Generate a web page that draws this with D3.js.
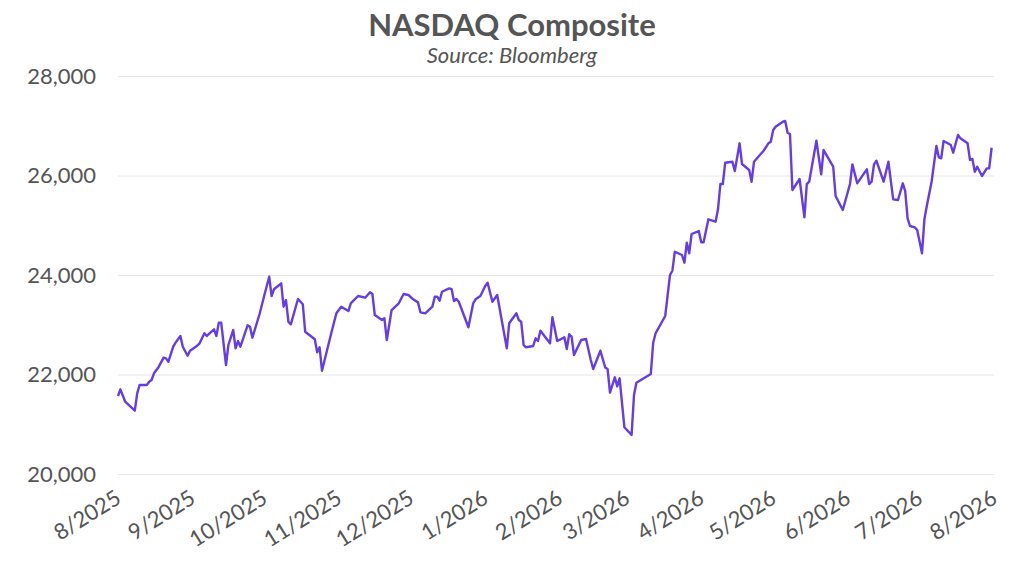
<!DOCTYPE html>
<html>
<head>
<meta charset="utf-8">
<script src="https://cdn.jsdelivr.net/npm/d3@7"></script>
<style>
  html, body { margin: 0; padding: 0; background: #fff; }
</style>
</head>
<body>
<div id="chart"></div>
<script>
const title = 'NASDAQ Composite';
const subtitle = 'Source: Bloomberg';

const yTicks = [20000, 22000, 24000, 26000, 28000];
const xTicks = ['2025-08-01', '2025-09-01', '2025-10-01', '2025-11-01', '2025-12-01', '2026-01-01',
  '2026-02-01', '2026-03-01', '2026-04-01', '2026-05-01', '2026-06-01', '2026-07-01', '2026-08-01'];

const dates = [
  '2025-08-01', '2025-08-02', '2025-08-04', '2025-08-08', '2025-08-09', '2025-08-10', '2025-08-13', '2025-08-14',
  '2025-08-15', '2025-08-16', '2025-08-18', '2025-08-20', '2025-08-21', '2025-08-22', '2025-08-24', '2025-08-25',
  '2025-08-27', '2025-08-28', '2025-08-30', '2025-08-31',
  '2025-09-03', '2025-09-04', '2025-09-06', '2025-09-07', '2025-09-10', '2025-09-11', '2025-09-12', '2025-09-13',
  '2025-09-15', '2025-09-16', '2025-09-18', '2025-09-19', '2025-09-20', '2025-09-21', '2025-09-24', '2025-09-25',
  '2025-09-26', '2025-09-29',
  '2025-10-01', '2025-10-03', '2025-10-04', '2025-10-05', '2025-10-08', '2025-10-09', '2025-10-10', '2025-10-11',
  '2025-10-12', '2025-10-15', '2025-10-17', '2025-10-18', '2025-10-22', '2025-10-23', '2025-10-24', '2025-10-25',
  '2025-10-29', '2025-10-31',
  '2025-11-02', '2025-11-05', '2025-11-06', '2025-11-09', '2025-11-12', '2025-11-14', '2025-11-15', '2025-11-16',
  '2025-11-19', '2025-11-20', '2025-11-21', '2025-11-23', '2025-11-26', '2025-11-28', '2025-11-30',
  '2025-12-02', '2025-12-04', '2025-12-05', '2025-12-07', '2025-12-10', '2025-12-11', '2025-12-12', '2025-12-13',
  '2025-12-14', '2025-12-17', '2025-12-18', '2025-12-19', '2025-12-20', '2025-12-21', '2025-12-25', '2025-12-27',
  '2025-12-28', '2025-12-30',
  '2026-01-01', '2026-01-02', '2026-01-04', '2026-01-06', '2026-01-10', '2026-01-11', '2026-01-14', '2026-01-15',
  '2026-01-16', '2026-01-17', '2026-01-18', '2026-01-21', '2026-01-22', '2026-01-23', '2026-01-24', '2026-01-28',
  '2026-01-29', '2026-01-31',
  '2026-02-03', '2026-02-04', '2026-02-05', '2026-02-06', '2026-02-07', '2026-02-10', '2026-02-12', '2026-02-14',
  '2026-02-15', '2026-02-18', '2026-02-20', '2026-02-21', '2026-02-22', '2026-02-24', '2026-02-25', '2026-02-26',
  '2026-02-28',
  '2026-03-03', '2026-03-04', '2026-03-05', '2026-03-11', '2026-03-12', '2026-03-13', '2026-03-17', '2026-03-19',
  '2026-03-20', '2026-03-21', '2026-03-24', '2026-03-25', '2026-03-26', '2026-03-27', '2026-03-28', '2026-03-31',
  '2026-04-01', '2026-04-02', '2026-04-04', '2026-04-07', '2026-04-08', '2026-04-09', '2026-04-10', '2026-04-11',
  '2026-04-14', '2026-04-15', '2026-04-17', '2026-04-18', '2026-04-21', '2026-04-22', '2026-04-23', '2026-04-24',
  '2026-04-27', '2026-04-29', '2026-04-30',
  '2026-05-01', '2026-05-02', '2026-05-05', '2026-05-06', '2026-05-07', '2026-05-08', '2026-05-09', '2026-05-12',
  '2026-05-14', '2026-05-15', '2026-05-16', '2026-05-19', '2026-05-21', '2026-05-22', '2026-05-26', '2026-05-27',
  '2026-05-30',
  '2026-06-02', '2026-06-03', '2026-06-05', '2026-06-09', '2026-06-10', '2026-06-11', '2026-06-12', '2026-06-13',
  '2026-06-16', '2026-06-18', '2026-06-20', '2026-06-22', '2026-06-24', '2026-06-25', '2026-06-26', '2026-06-27',
  '2026-06-29', '2026-06-30',
  '2026-07-02', '2026-07-03', '2026-07-04', '2026-07-06', '2026-07-08', '2026-07-09', '2026-07-10', '2026-07-11',
  '2026-07-14', '2026-07-15', '2026-07-17', '2026-07-18', '2026-07-21', '2026-07-22', '2026-07-23', '2026-07-24',
  '2026-07-25', '2026-07-27', '2026-07-29', '2026-07-30', '2026-07-31'
];

const closes = [
  21568, 21702, 21453, 21273, 21622, 21789, 21789, 21855,
  21889, 22024, 22157, 22338, 22325, 22257, 22559, 22640,
  22774, 22559, 22378, 22478,
  22579, 22627, 22828, 22774, 22908, 22774, 23041, 23041,
  22191, 22593, 22894, 22526, 22673, 22559, 22988, 22961,
  22740, 23216,
  23598, 23966, 23578, 23713, 23833, 23363, 23497, 23061,
  23008, 23518, 23411, 22860, 22708, 22448, 22547, 22076,
  22860, 23230,
  23363, 23276, 23431, 23578, 23544, 23652, 23618, 23196,
  23095, 23130, 22693, 23296, 23431, 23618, 23598,
  23511, 23450, 23250, 23230, 23364, 23563, 23563, 23483,
  23664, 23732, 23718, 23477, 23517, 23463, 22949, 23431,
  23511, 23578,
  23779, 23845, 23463, 23598, 22527, 23029, 23230, 23095,
  23061, 22593, 22547, 22573, 22727, 22673, 22880, 22627,
  23150, 22673,
  22747, 22513, 22808, 22760, 22392, 22693, 22713, 22291,
  22111, 22478, 22140, 22110, 21634, 21944, 21762, 21923,
  20939,
  20784, 21588, 21835, 22010, 22639, 22828, 23176, 24000,
  24086, 24468, 24402, 24247, 24649, 24436, 24824, 24884,
  24657, 24657, 25119, 25071, 25320, 25829, 25829, 26257,
  26277, 26090, 26647, 26231, 26110, 25875, 26277, 26332,
  26498, 26647, 26680,
  26914, 26981, 27081, 27095, 26860, 26834, 25708, 25930,
  25160, 25829, 25875, 26700, 26024, 26512, 26177, 25588,
  25307,
  25829, 26224, 25843, 26124, 25829, 25875, 26224, 26298,
  25875, 26277, 25521, 25507, 25843, 25688, 25139, 24985,
  24958, 24904,
  24436, 25119, 25387, 25875, 26593, 26365, 26345, 26693,
  26613, 26459, 26815, 26747, 26647, 26312, 26332, 26077,
  26177, 25990, 26144, 26144, 26558
];

const width = 1024;
const height = 572;
const margin = { top: 76, right: 30, bottom: 98, left: 118 };
const textColor = '#555555';
const fontFamily = 'Lato, "Open Sans", sans-serif';

const parseDate = d3.timeParse('%Y-%m-%d');
const series = dates.map((d, i) => ({ date: parseDate(d), value: closes[i] }));

const svg = d3.select('#chart')
  .append('svg')
  .attr('xmlns', 'http://www.w3.org/2000/svg')
  .attr('width', width)
  .attr('height', height)
  .attr('font-family', fontFamily)
  .attr('viewBox', '0 0 ' + width + ' ' + height);

const x = d3.scaleTime()
  .domain([parseDate(xTicks[0]), parseDate(xTicks[xTicks.length - 1])])
  .range([margin.left, width - margin.right]);

const y = d3.scaleLinear()
  .domain([yTicks[0], yTicks[yTicks.length - 1]])
  .range([height - margin.bottom, margin.top]);

// title block
svg.append('text')
  .attr('x', width / 2)
  .attr('y', 36)
  .attr('text-anchor', 'middle')
  .attr('font-size', 31)
  .attr('font-weight', 700)
  .attr('fill', textColor)
  .text(title);

svg.append('text')
  .attr('x', width / 2)
  .attr('y', 63)
  .attr('text-anchor', 'middle')
  .attr('font-size', 22)
  .attr('font-style', 'italic')
  .attr('fill', textColor)
  .text(subtitle);

// y axis with gridlines
const yAxis = d3.axisLeft(y)
  .tickValues(yTicks)
  .tickSize(-(width - margin.left - margin.right))
  .tickPadding(22)
  .tickFormat(d3.format(','));

svg.append('g')
  .attr('transform', 'translate(' + margin.left + ',0)')
  .call(yAxis)
  .call(g => g.select('.domain').remove())
  .call(g => g.selectAll('.tick line').attr('stroke', '#e6e6e6').attr('stroke-width', 1))
  .call(g => g.selectAll('.tick text')
    .attr('fill', textColor)
    .attr('font-size', 22)
    .attr('font-family', fontFamily));

// x axis, rotated month labels
const xAxis = d3.axisBottom(x)
  .tickValues(xTicks.map(parseDate))
  .tickSize(0)
  .tickFormat(d3.timeFormat('%-m/%Y'));

svg.append('g')
  .attr('transform', 'translate(0,' + (height - margin.bottom) + ')')
  .call(xAxis)
  .call(g => g.select('.domain').remove())
  .call(g => g.selectAll('.tick text')
    .attr('fill', textColor)
    .attr('font-size', 22)
    .attr('font-family', fontFamily)
    .attr('text-anchor', 'end')
    .attr('y', 0)
    .attr('dy', 0)
    .attr('transform', 'translate(4,28) rotate(-32)'));

// price line
const line = d3.line()
  .x(d => x(d.date))
  .y(d => y(d.value));

svg.append('path')
  .datum(series)
  .attr('fill', 'none')
  .attr('stroke', '#653ce6')
  .attr('stroke-width', 2.4)
  .attr('stroke-linejoin', 'round')
  .attr('d', line);
</script>
</body>
</html>
